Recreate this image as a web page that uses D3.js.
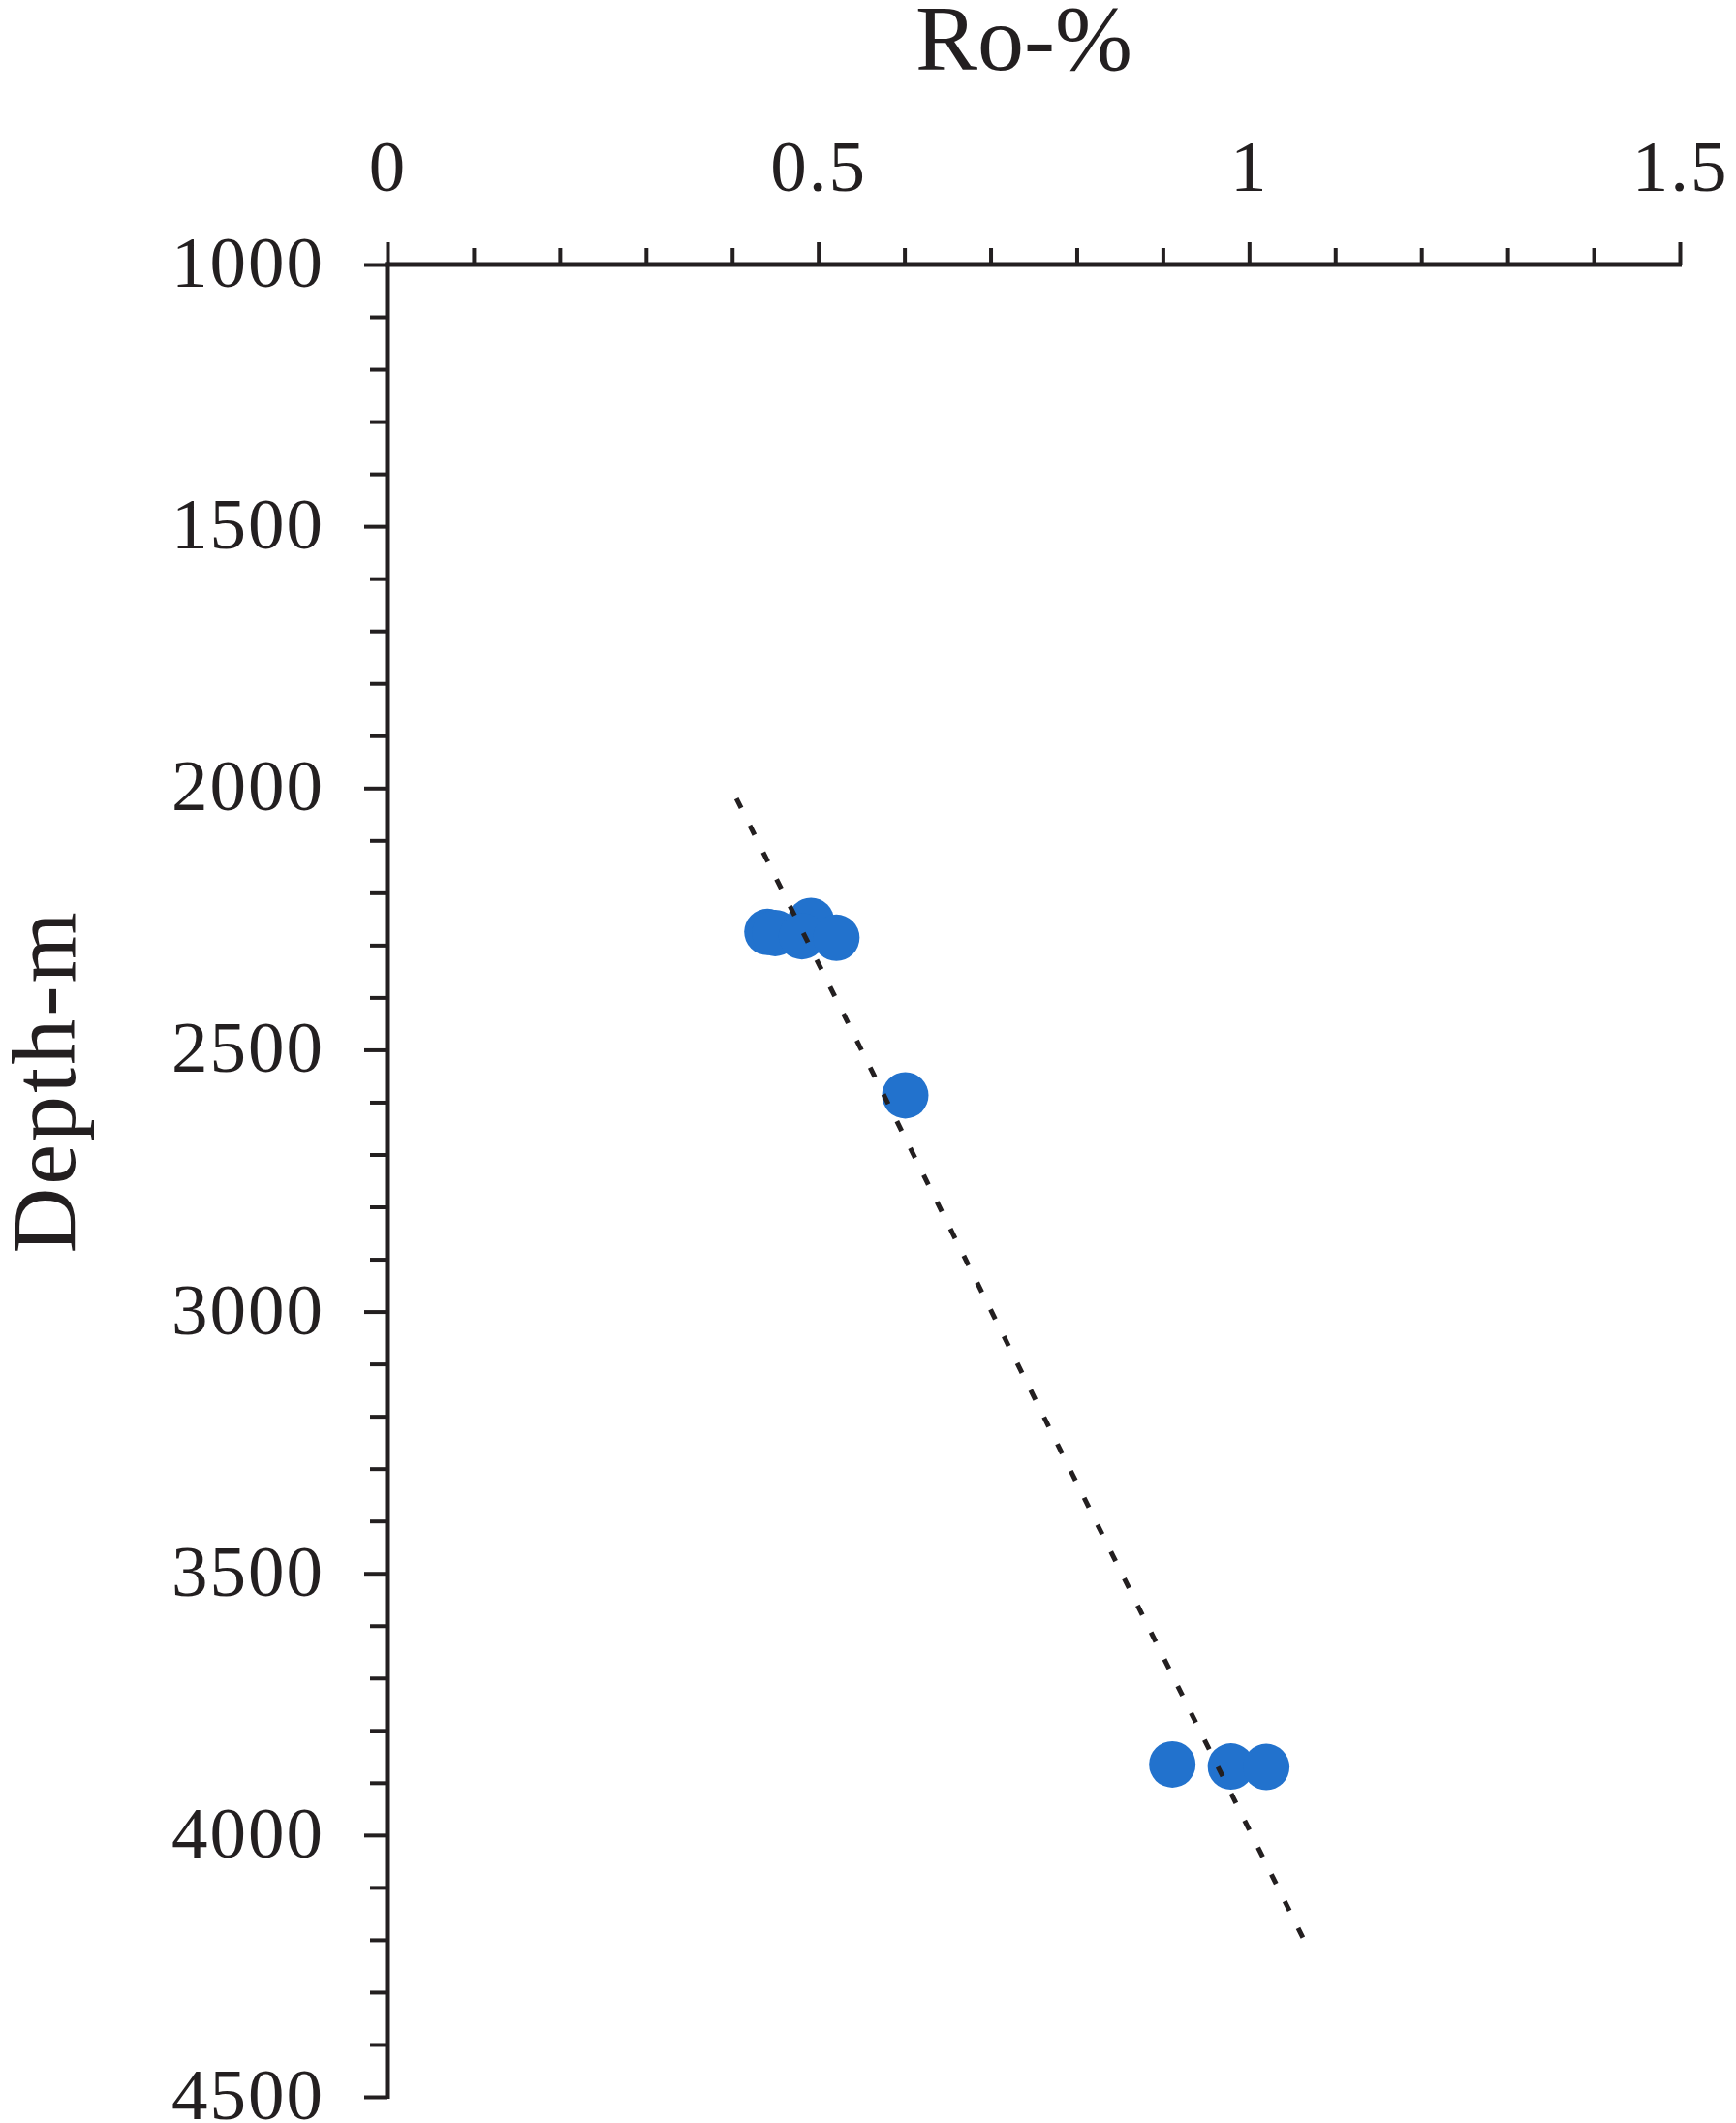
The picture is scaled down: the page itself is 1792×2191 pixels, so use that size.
<!DOCTYPE html>
<html>
<head>
<meta charset="utf-8">
<script src="https://cdn.jsdelivr.net/npm/d3@7"></script>
<style>
  html, body { margin: 0; padding: 0; background: #fff; }
  svg { display: block; }
  text { font-family: "Liberation Serif", "Times New Roman", serif; fill: #231f20; }
</style>
</head>
<body>
<svg id="chart" width="1792" height="2191"></svg>
<script>
// ---- data ----
const roValues    = [0.441, 0.450, 0.4915, 0.481, 0.521, 0.601, 0.911, 0.979, 1.020];
const depthValues = [2275, 2277, 2254, 2283, 2286, 2587, 3865, 3869, 3870];
const trendRo     = [0.405, 1.0625];
const trendDepth  = [2020, 4196];
const xMajorTicks = [0, 0.5, 1, 1.5];
const xMinorTicks = [0.1, 0.2, 0.3, 0.4, 0.6, 0.7, 0.8, 0.9, 1.1, 1.2, 1.3, 1.4];
const yMajorTicks = [1000, 1500, 2000, 2500, 3000, 3500, 4000, 4500];
const yMinorTicks = [1100, 1200, 1300, 1400, 1600, 1700, 1800, 1900, 2100, 2200, 2300, 2400,
                     2600, 2700, 2800, 2900, 3100, 3200, 3300, 3400, 3600, 3700, 3800, 3900,
                     4100, 4200, 4300, 4400];
const xTitle = "Ro-%";
const yTitle = "Depth-m";

// ---- layout ----
const ink = "#231f20";
const dotColor = "#2272cd";
const svg = d3.select("#chart");

const x = d3.scaleLinear().domain([0, 1.5]).range([400, 1734]);
const y = d3.scaleLinear().domain([1000, 4500]).range([273, 2164]);

// points
const pts = roValues.map((v, i) => ({ ro: v, depth: depthValues[i] }));
svg.append("g").selectAll("circle")
  .data(pts).join("circle")
  .attr("cx", d => x(d.ro))
  .attr("cy", d => y(d.depth))
  .attr("r", 24)
  .attr("fill", dotColor);

// trend line
const trend = trendRo.map((v, i) => ({ ro: v, depth: trendDepth[i] }));
svg.append("path")
  .datum(trend)
  .attr("d", d3.line().x(d => x(d.ro)).y(d => y(d.depth)))
  .attr("fill", "none")
  .attr("stroke", ink)
  .attr("stroke-width", 5)
  .attr("stroke-dasharray", "11,20");

// x axis (top)
const gxMinor = svg.append("g").attr("transform", `translate(0,${y(1000)})`)
  .call(d3.axisTop(x).tickValues(xMinorTicks).tickSize(17).tickSizeOuter(0).tickFormat(""));
const gx = svg.append("g").attr("transform", `translate(0,${y(1000)})`)
  .call(d3.axisTop(x).tickValues(xMajorTicks).tickSize(23).tickSizeOuter(0).tickPadding(53)
    .tickFormat(d => String(d)));

// y axis (left)
const gyMinor = svg.append("g").attr("transform", `translate(${x(0)},0)`)
  .call(d3.axisLeft(y).tickValues(yMinorTicks).tickSize(18).tickSizeOuter(0).tickFormat(""));
const gy = svg.append("g").attr("transform", `translate(${x(0)},0)`)
  .call(d3.axisLeft(y).tickValues(yMajorTicks).tickSize(24).tickSizeOuter(0).tickPadding(41)
    .tickFormat(d => String(d)));

[gxMinor, gx, gyMinor, gy].forEach(g => {
  g.selectAll(".domain").remove();
  g.selectAll(".tick line").attr("stroke", ink).attr("stroke-width", 4);
});
gx.selectAll(".tick text")
  .attr("font-size", 75).attr("fill", ink).attr("letter-spacing", 2)
  .attr("font-family", '"Liberation Serif", "Times New Roman", serif');
gy.selectAll(".tick text")
  .attr("font-size", 75).attr("fill", ink).attr("letter-spacing", 2).attr("dy", "0.3em")
  .attr("font-family", '"Liberation Serif", "Times New Roman", serif');

// axis lines
svg.append("line")
  .attr("x1", x(0) - 2.5).attr("x2", x(1.5) + 2)
  .attr("y1", y(1000)).attr("y2", y(1000))
  .attr("stroke", ink).attr("stroke-width", 5);
svg.append("line")
  .attr("x1", x(0)).attr("x2", x(0))
  .attr("y1", y(1000) - 2.5).attr("y2", y(4500) + 2)
  .attr("stroke", ink).attr("stroke-width", 5);

// titles
svg.append("text")
  .attr("x", 1057).attr("y", 72)
  .attr("text-anchor", "middle")
  .attr("font-size", 96)
  .text(xTitle);
svg.append("text")
  .attr("transform", "translate(77,1116) rotate(-90)")
  .attr("text-anchor", "middle")
  .attr("font-size", 94)
  .attr("letter-spacing", 3)
  .text(yTitle);
</script>
</body>
</html>
